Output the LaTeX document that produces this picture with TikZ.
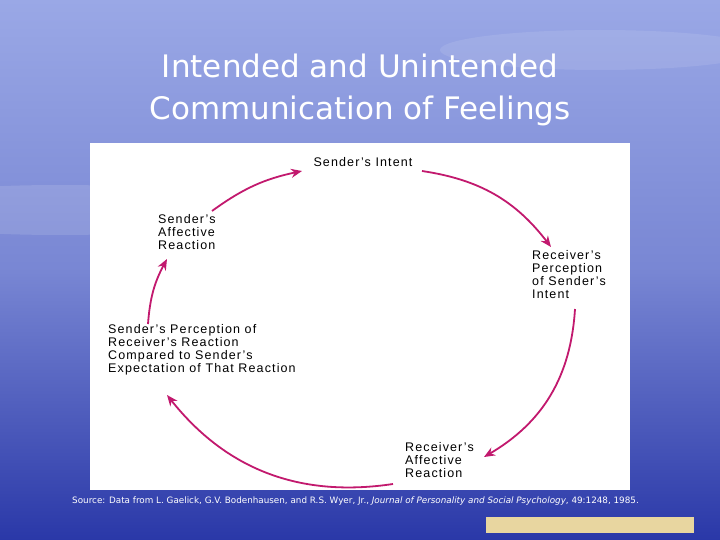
\documentclass[tikz,border=0pt]{standalone}
\usepackage{fontspec}
\setmainfont{Liberation Sans}
\newfontfamily\titlefont{DejaVu Sans}
\usetikzlibrary{arrows.meta}
\definecolor{arr}{HTML}{C2196E}
\definecolor{bgtop}{HTML}{9AA8E6}
\definecolor{bgbot}{HTML}{2A38A8}
\definecolor{tan}{HTML}{E8D6A0}
\begin{document}
\begin{tikzpicture}[x=1pt,y=-1pt,
  lbl/.style={align=left,font=\fontsize{12.5}{13}\selectfont\addfontfeature{LetterSpace=9},inner sep=0pt,anchor=north west},
  cyc/.style={draw=arr,line width=1.8pt,-{Stealth[length=11pt,width=9pt]}}]
\useasboundingbox (0,0) rectangle (720,540);
\shade[top color=bgtop,bottom color=bgbot,middle color=bgtop!70!bgbot] (0,0) rectangle (720,540);
\fill[white,opacity=0.12] (60,210) ellipse (200 and 25);
\fill[white,opacity=0.10] (600,50) ellipse (160 and 20);
\node[font=\titlefont\fontsize{31}{42}\selectfont,text=white,align=center] (title) at (360,90) {Intended and Unintended\\Communication of Feelings};
\fill[white] (90,143) rectangle (630,490);
\node[lbl,anchor=north] (si) at (363,157) {Sender's Intent};
\node[lbl] (rp) at (532,250) {Receiver's\\Perception\\of Sender's\\Intent};
\node[lbl] (ra) at (405,442) {Receiver's\\Affective\\Reaction};
\node[lbl] (sp) at (108,324) {Sender's Perception of\\Receiver's Reaction\\Compared to Sender's\\Expectation of That Reaction};
\node[lbl] (sa) at (158,214) {Sender's\\Affective\\Reaction};
\coordinate (a1) at (422,171); \coordinate (a2) at (551,247);
\coordinate (b1) at (575,309); \coordinate (b2) at (484,457);
\coordinate (c1) at (393,484); \coordinate (c2) at (167,395);
\coordinate (d1) at (148,324); \coordinate (d2) at (167,259);
\coordinate (e1) at (212,211); \coordinate (e2) at (302,171);
\draw[cyc] (a1) to[bend left=22] (a2);
\draw[cyc] (b1) to[bend left=28] (b2);
\draw[cyc] (c1) to[bend left=30] (c2);
\draw[cyc] (d1) to[bend left=12] (d2);
\draw[cyc] (e1) to[bend left=12] (e2);
\node[font=\titlefont\fontsize{8.8}{10}\selectfont,text=white,anchor=west,inner sep=0pt] (src) at (72,501) {Source: Data from L. Gaelick, G.V. Bodenhausen, and R.S. Wyer, Jr., \textit{Journal of Personality and Social Psychology}, 49:1248, 1985.};
\fill[tan] (486,517) rectangle (694,533);
\end{tikzpicture}
\end{document}
